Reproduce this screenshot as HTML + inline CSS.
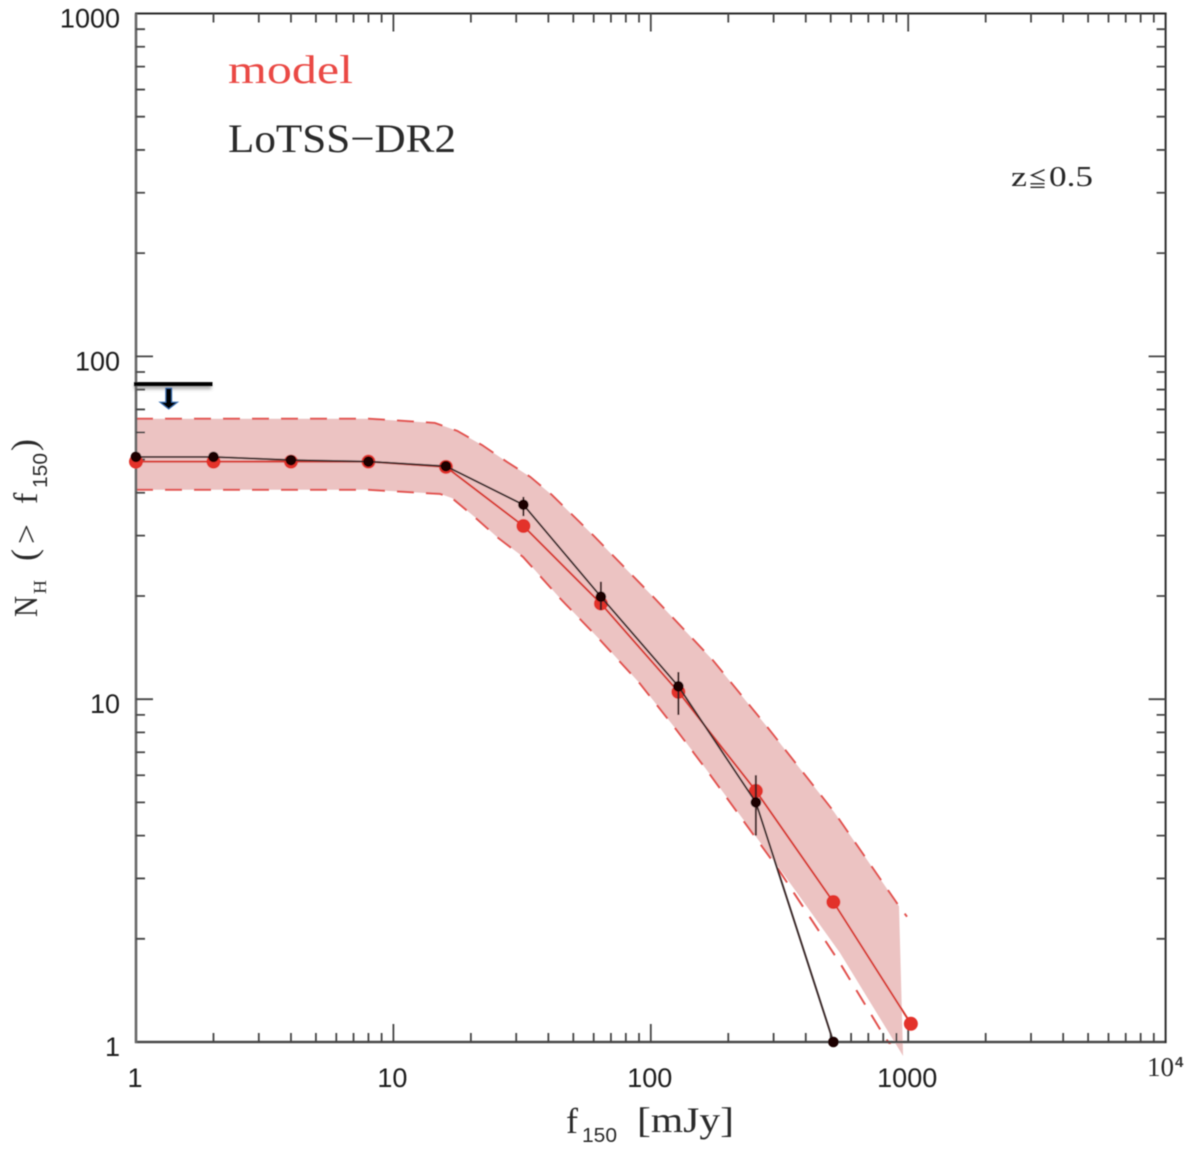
<!DOCTYPE html>
<html lang="en">
<head>
<meta charset="utf-8">
<title>Cumulative number counts: model vs LoTSS-DR2</title>
<style>
  html, body { margin: 0; padding: 0; background: #fff; }
  svg { display: block; }
  .tick-label { font-family: "Liberation Sans", sans-serif; font-size: 27px; fill: #1c1c1c; }
  .serif { font-family: "Liberation Serif", "Noto Sans CJK JP", serif; }
  .sans { font-family: "Liberation Sans", sans-serif; }
</style>
</head>
<body>
<svg id="chart" xmlns="http://www.w3.org/2000/svg" width="1200" height="1161" viewBox="0 0 1200 1161">
  <defs>
    <filter id="soft" x="-5%" y="-5%" width="110%" height="110%"><feGaussianBlur stdDeviation="0.6"/></filter>
    <filter id="shadow" x="-20%" y="-50%" width="140%" height="250%"><feGaussianBlur stdDeviation="1.6"/></filter>
    <clipPath id="plot-clip"><rect x="130" y="10" width="1040" height="1034"/></clipPath>
  </defs>
  <rect width="1200" height="1161" fill="#ffffff"/>
  <g id="root" filter="url(#soft)">
    <g id="band-layer"></g>
    <g id="axes-layer"></g>
    <g id="series-layer"></g>
    <g id="label-layer"></g>

    <text class="serif" x="228" y="83" font-size="40" fill="#ea4a44" textLength="125" lengthAdjust="spacingAndGlyphs">model</text>
    <text class="serif" x="228" y="152" font-size="40" fill="#2c2c2c" textLength="228" lengthAdjust="spacingAndGlyphs">LoTSS−DR2</text>
    <g fill="#262626">
      <text class="serif" x="1011" y="186" font-size="29" textLength="16" lengthAdjust="spacingAndGlyphs">z</text>
      <text class="serif" x="1028" y="187" font-size="21" textLength="19" lengthAdjust="spacingAndGlyphs">≦</text>
      <text class="serif" x="1049" y="186" font-size="29" textLength="44" lengthAdjust="spacingAndGlyphs">0.5</text>
    </g>

    <g fill="#2c2c2c">
      <text class="serif" x="566" y="1133" font-size="36">f</text>
      <text class="sans" x="582" y="1142" font-size="20" textLength="35" lengthAdjust="spacingAndGlyphs">150</text>
      <text class="serif" x="637" y="1132" font-size="36" textLength="97" lengthAdjust="spacingAndGlyphs">[mJy]</text>
    </g>
    <g fill="#2c2c2c">
      <text class="serif" transform="translate(37,617) rotate(-90)" font-size="34" textLength="21" lengthAdjust="spacingAndGlyphs">N</text>
      <text class="serif" transform="translate(46,594) rotate(-90)" font-size="18" textLength="14" lengthAdjust="spacingAndGlyphs">H</text>
      <text class="serif" transform="translate(36,561) rotate(-90)" font-size="36" textLength="12" lengthAdjust="spacingAndGlyphs">(</text>
      <text class="serif" transform="translate(37,544) rotate(-90)" font-size="32" textLength="20" lengthAdjust="spacingAndGlyphs">&gt;</text>
      <text class="serif" transform="translate(37,504) rotate(-90)" font-size="34">f</text>
      <text class="sans" transform="translate(47,488) rotate(-90)" font-size="20" textLength="35" lengthAdjust="spacingAndGlyphs">150</text>
      <text class="serif" transform="translate(36,451) rotate(-90)" font-size="36" textLength="12" lengthAdjust="spacingAndGlyphs">)</text>
    </g>
  </g>
</svg>
<script>
// ---- data ----
const fluxBins = [1, 2, 4, 8, 16, 32, 64, 128, 256, 512, 1024];
const modelCounts = [49.3, 49.3, 49.3, 49.3, 47.6, 32.0, 19.0, 10.5, 5.4, 2.56, 1.13];
const dataFlux = [1, 2, 4, 8, 16, 32, 64, 128, 256, 512];
const dataCounts = [50.9, 50.9, 49.8, 49.3, 47.8, 36.9, 19.9, 10.9, 5.0, 1.0];
const errFlux = [32, 64, 128, 256];
const errHigh = [38.9, 22.0, 12.0, 6.0];
const errLow = [34.2, 18.2, 9.0, 4.0];
const upperFlux = [1, 8, 14.5, 17.7, 22.1, 27.6, 34.0, 41.3, 59.6, 102, 174, 283, 515, 921, 989];
const upperCounts = [65.8, 65.8, 63.9, 60.6, 55.1, 49.2, 44.5, 39.4, 30.1, 19.9, 13.0, 8.3, 4.69, 2.49, 2.32];
const lowerFlux = [1, 8, 15.2, 16.9, 20.7, 25.3, 31.9, 44.4, 63.5, 90.8, 126, 165, 309, 543, 813, 873];
const lowerCounts = [40.8, 40.8, 39.7, 38.6, 34.0, 29.7, 26.0, 19.7, 14.9, 11.1, 8.13, 6.21, 3.24, 1.70, 1.03, 0.96];
const fillLowerFlux = [1, 8, 15.2, 16.9, 20.7, 25.3, 31.9, 44.4, 63.5, 90.8, 126, 165, 326, 543, 955];
const fillLowerCounts = [40.8, 40.8, 39.7, 38.6, 34.0, 29.7, 26.0, 19.7, 14.9, 11.1, 8.13, 6.21, 3.11, 1.82, 0.91];
const limitFlux = [1, 2];
const limitCount = [83];
const limitArrowFlux = [1.34];
const xDecades = [1, 10, 100, 1000, 10000];
const yDecades = [1, 10, 100, 1000];
const minorSteps = [2, 3, 4, 5, 6, 7, 8, 9];
const xTickLabels = ['1', '10', '100', '1000'];
const yTickLabels = ['1', '10', '100', '1000'];

// ---- axis functions ----
const SVGNS = 'http://www.w3.org/2000/svg';
const X0 = 136, XDEC = 257.4, Y0 = 1042, YDEC = 342.83;
const X = v => X0 + XDEC * Math.log10(v);
const Y = v => Y0 - YDEC * Math.log10(v);
const make = (parent, tag, attrs) => {
  const el = document.createElementNS(SVGNS, tag);
  for (const k in attrs) el.setAttribute(k, attrs[k]);
  parent.appendChild(el);
  return el;
};
const pts = (xs, ys) => xs.map((x, i) => X(x).toFixed(1) + ',' + Y(ys[i]).toFixed(1));

const bandLayer = document.getElementById('band-layer');
const axesLayer = document.getElementById('axes-layer');
const seriesLayer = document.getElementById('series-layer');
const labelLayer = document.getElementById('label-layer');

// ---- band ----
const bandPts = pts(upperFlux.slice(0, -1), upperCounts.slice(0, -1))
  .concat(pts(fillLowerFlux, fillLowerCounts).reverse());
const bandFill = make(bandLayer, 'polygon', { points: bandPts.join(' '), fill: '#ecc3c2' });


const bandUpper = make(bandLayer, 'polyline', { points: pts(upperFlux, upperCounts).join(' '), fill: 'none', stroke: '#e25250', 'stroke-width': 2, 'stroke-dasharray': '17 12' });


const bandLower = make(bandLayer, 'polyline', { points: pts(lowerFlux, lowerCounts).join(' '), fill: 'none', stroke: '#e25250', 'stroke-width': 2, 'stroke-dasharray': '17 12', 'clip-path': 'url(#plot-clip)' });



// ---- axes ----
const XL = X(xDecades[0]), XR = X(xDecades[xDecades.length - 1]);
const YB = Y(yDecades[0]), YT = Y(yDecades[yDecades.length - 1]);
const axisLine = (name, x1, y1, x2, y2, color, w) => {
  const l = make(axesLayer, 'line', { x1, y1, x2, y2, stroke: color, 'stroke-width': w });
  
  
};
axisLine('axis-bottom', XL - 1, YB, XR + 1, YB, '#4a4a4a', 2.4);
axisLine('axis-top', XL - 1, YT, XR + 1, YT, '#2a2a2a', 2);
axisLine('axis-left', XL, YT, XL, YB + 1, '#666666', 2.6);
axisLine('axis-right', XR, YT, XR, YB + 1, '#2e2e2e', 2);
const tickPath = [];
xDecades.forEach((d, i) => {
  if (i > 0 && i < xDecades.length - 1) {
    tickPath.push(`M${X(d)} ${YB}v-18M${X(d)} ${YT}v18`);
  }
  if (i < xDecades.length - 1) {
    minorSteps.forEach(m => tickPath.push(`M${X(d * m)} ${YB}v-9M${X(d * m)} ${YT}v9`));
  }
});
yDecades.forEach((d, i) => {
  if (i > 0 && i < yDecades.length - 1) {
    tickPath.push(`M${XL} ${Y(d)}h17M${XR} ${Y(d)}h-17`);
  }
  if (i < yDecades.length - 1) {
    minorSteps.forEach(m => tickPath.push(`M${XL} ${Y(d * m)}h9M${XR} ${Y(d * m)}h-9`));
  }
});
const ticks = make(axesLayer, 'path', { d: tickPath.join(''), fill: 'none', stroke: '#454545', 'stroke-width': 1.8 });



// ---- tick labels ----
xTickLabels.forEach((t, i) => {
  const el = make(labelLayer, 'text', { class: 'tick-label', x: X(xDecades[i]) - 1, y: 1087, 'text-anchor': 'middle' });
  
  
  el.textContent = t;
});
yTickLabels.forEach((t, i) => {
  const el = make(labelLayer, 'text', { class: 'tick-label', x: 120, y: Y(yDecades[i]) + 14, 'text-anchor': 'end' });
  
  
  el.textContent = t;
});
const xMax = make(labelLayer, 'text', { class: 'serif', x: 1147, y: 1076, 'font-size': 27, fill: '#262626' });


xMax.textContent = '10';
const xMaxExp = make(labelLayer, 'text', { class: 'sans', x: 1175, y: 1067, 'font-size': 15, 'font-weight': 'bold', fill: '#333333' });


xMaxExp.textContent = '4';

// ---- model series ----
const modelLine = make(seriesLayer, 'polyline', { points: pts(fluxBins, modelCounts).join(' '), fill: 'none', stroke: '#d8392f', 'stroke-width': 2 });


fluxBins.forEach((f, i) => {
  const c = make(seriesLayer, 'circle', { cx: X(f), cy: Y(modelCounts[i]), r: 7, fill: '#e3302a' });
  
  
});

// ---- observed series ----
const dataLine = make(seriesLayer, 'polyline', { points: pts(dataFlux, dataCounts).join(' '), fill: 'none', stroke: '#3a2a2a', 'stroke-width': 1.9 });


errFlux.forEach((f, i) => {
  const e = make(seriesLayer, 'line', { x1: X(f), x2: X(f), y1: Y(errHigh[i]), y2: Y(errLow[i]), stroke: '#3a2020', 'stroke-width': 2 });
  
  
});
dataFlux.forEach((f, i) => {
  const c = make(seriesLayer, 'circle', { cx: X(f), cy: Y(dataCounts[i]), r: 5.3, fill: '#1e0505' });
  
  
});

// ---- upper limit ----
const limY = Y(limitCount[0]);
const limShadow = make(seriesLayer, 'rect', { x: X(limitFlux[0]) - 2, y: limY, width: X(limitFlux[1]) - X(limitFlux[0]), height: 5, fill: '#777', opacity: 0.6, filter: 'url(#shadow)' });


const limBar = make(seriesLayer, 'line', { x1: X(limitFlux[0]) - 2, x2: X(limitFlux[1]) - 1, y1: limY, y2: limY, stroke: '#000', 'stroke-width': 4 });


const ax = X(limitArrowFlux[0]);
const arrowShape = `${ax - 3},${limY + 4} ${ax + 3},${limY + 4} ${ax + 3},${limY + 18} ${ax + 9},${limY + 18} ${ax},${limY + 25} ${ax - 9},${limY + 18} ${ax - 3},${limY + 18}`;
const limArrow = make(seriesLayer, 'polygon', { points: arrowShape, fill: '#000', stroke: '#3f74b8', 'stroke-width': 1 });


</script>
</body>
</html>
